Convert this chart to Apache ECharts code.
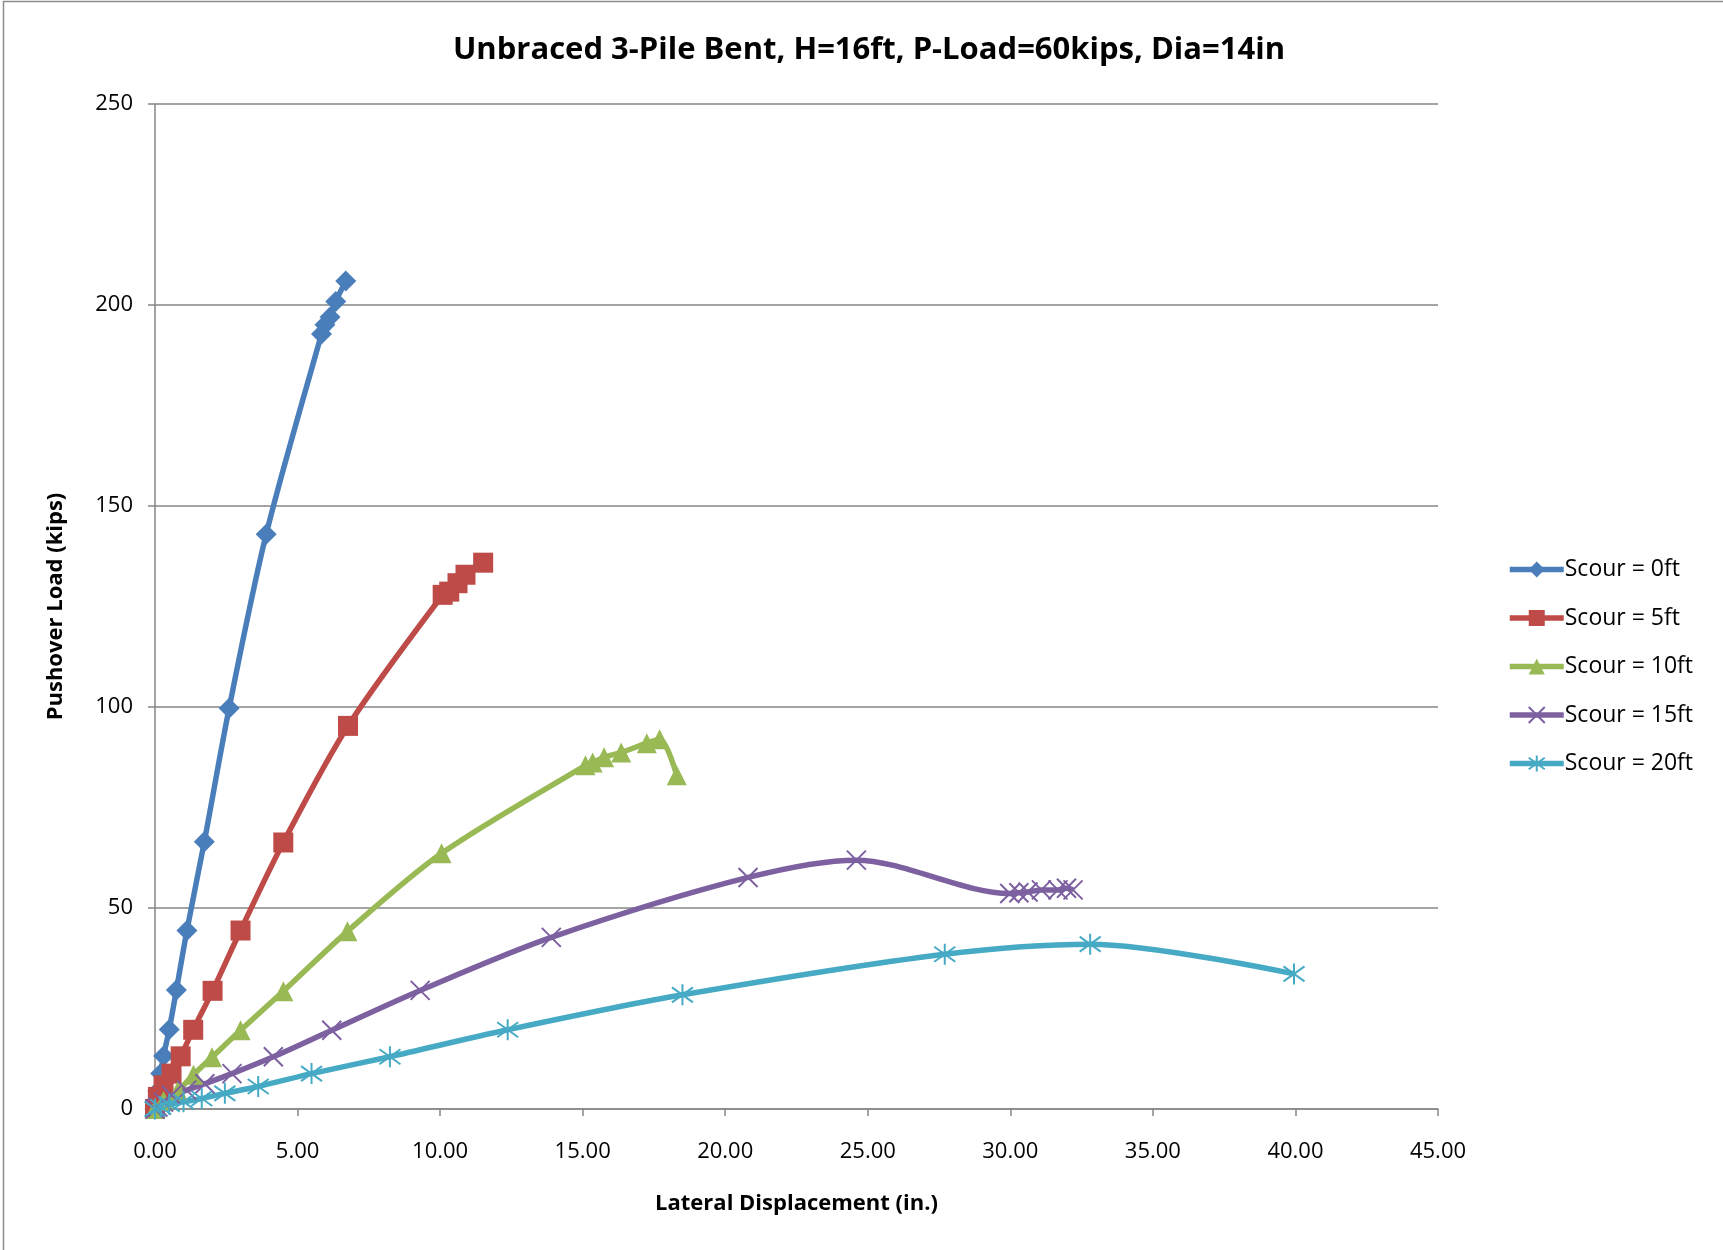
<!DOCTYPE html>
<html>
<head>
<meta charset="utf-8">
<script src="https://cdn.jsdelivr.net/npm/echarts@6/dist/echarts.min.js"></script>
<style>
  html, body { margin: 0; padding: 0; background: #fff; }
  #chart { width: 1723px; height: 1250px; }
</style>
</head>
<body>
<div id="chart"></div>
<script>
// values
const scour0X = [0, 0.1, 0.2, 0.3, 0.5, 0.75, 1.12, 1.73, 2.6, 3.9, 5.84, 5.96, 6.14, 6.34, 6.69];
const scour0Y = [0, 4.5, 8.8, 13.2, 19.8, 29.6, 44.4, 66.5, 99.7, 143.0, 192.8, 195.1, 197.0, 200.9, 206.0];

const scour5X = [0, 0.1, 0.3, 0.58, 0.9, 1.34, 2.02, 3.0, 4.5, 6.77, 10.09, 10.32, 10.61, 10.89, 11.51];
const scour5Y = [0, 3, 5.9, 8.8, 13.1, 19.7, 29.4, 44.4, 66.3, 95.3, 127.9, 128.7, 130.8, 132.9, 135.9];

const scour10X = [0, 0.3, 0.8, 1.35, 2.0, 3.0, 4.5, 6.75, 10.05, 15.1, 15.35, 15.75, 16.35, 17.25, 17.7, 18.3];
const scour10Y = [0, 2, 4.5, 8.5, 12.9, 19.6, 29.3, 44.2, 63.6, 85.5, 86.2, 87.5, 88.7, 91.0, 92.0, 83.0];

const scour15X = [0, 0.1, 0.3, 0.58, 1.11, 1.75, 2.7, 4.15, 6.2, 9.3, 13.9, 20.8, 24.6, 29.98, 30.3, 30.62, 31.09, 31.67, 31.97, 32.2];
const scour15Y = [0, 0.5, 1.7, 3.4, 4.7, 6.3, 8.8, 13.0, 19.6, 29.5, 42.7, 57.6, 61.9, 53.6, 53.8, 54.0, 54.5, 54.5, 54.9, 54.5];

const scour20X = [0, 0.2, 0.5, 1.0, 1.64, 2.45, 3.62, 5.49, 8.24, 12.37, 18.5, 27.7, 32.8, 39.95];
const scour20Y = [0, 0.5, 1.2, 1.8, 2.6, 3.9, 5.6, 8.8, 13.0, 19.7, 28.4, 38.5, 41.0, 33.6];

const seriesNames = ['Scour = 0ft', 'Scour = 5ft', 'Scour = 10ft', 'Scour = 15ft', 'Scour = 20ft'];

const chart = echarts.init(document.getElementById('chart'));

const pairs = (xs, ys) => xs.map((x, i) => [x, ys[i]]);

const makeSeries = (name, data, color, symbol, size, hollow) => ({
  name: name,
  type: 'line',
  data: data,
  smooth: 0.3,
  symbol: symbol,
  symbolSize: size,
  showAllSymbol: true,
  lineStyle: { color: color, width: 5.5 },
  itemStyle: hollow
    ? { color: 'rgba(0,0,0,0)', borderColor: color, borderWidth: 2 }
    : { color: color, borderColor: color, borderWidth: 0 },
  emphasis: { disabled: true }
});

const option = {
  backgroundColor: '#fff',
  animation: false,
  title: {
    text: 'Unbraced 3-Pile Bent, H=16ft, P-Load=60kips, Dia=14in',
    left: 864,
    textAlign: 'center',
    top: 30,
    textStyle: { fontFamily: 'Open Sans', fontWeight: 'bold', fontSize: 31, color: '#000' }
  },
  grid: { left: 155, right: 285, top: 104, bottom: 141 },
  legend: {
    orient: 'vertical',
    left: 1502,
    top: 553,
    itemWidth: 54,
    itemHeight: 20,
    itemGap: 25.5,
    lineStyle: { width: 5.5 },
    textStyle: { fontFamily: 'Open Sans', fontSize: 23, lineHeight: 20, color: '#000', padding: [0, 0, 0, -4] },
    data: seriesNames
  },
  xAxis: {
    type: 'value',
    min: 0,
    max: 45,
    interval: 5,
    name: 'Lateral Displacement (in.)',
    nameLocation: 'middle',
    nameGap: 84,
    nameTextStyle: { fontFamily: 'Open Sans', fontWeight: 'bold', fontSize: 22, color: '#000' },
    axisLine: { lineStyle: { color: '#868686', width: 1.5 } },
    axisTick: { show: true, inside: false, length: 7, lineStyle: { color: '#868686', width: 1.5 } },
    axisLabel: { formatter: v => v.toFixed(2), fontFamily: 'Open Sans', fontSize: 22, color: '#000', margin: 32 },
    splitLine: { show: false }
  },
  yAxis: {
    type: 'value',
    min: 0,
    max: 250,
    interval: 50,
    name: 'Pushover Load (kips)',
    nameLocation: 'middle',
    nameGap: 88,
    nameTextStyle: { fontFamily: 'Open Sans', fontWeight: 'bold', fontSize: 22, color: '#000' },
    axisLine: { show: true, lineStyle: { color: '#868686', width: 1.5 } },
    axisTick: { show: true, inside: false, length: 7, lineStyle: { color: '#868686', width: 1.5 } },
    axisLabel: { fontFamily: 'Open Sans', fontSize: 22, color: '#000', margin: 22 },
    splitLine: { show: true, lineStyle: { color: '#868686', width: 1.5 } }
  },
  graphic: [{
    type: 'rect',
    shape: { x: 3.5, y: 1.5, width: 1760, height: 1300 },
    style: { fill: 'none', stroke: '#8c8c8c', lineWidth: 1.5 },
    silent: true
  }],
  series: [
    makeSeries(seriesNames[0], pairs(scour0X, scour0Y), '#4a7ebb', 'diamond', 21, false),
    makeSeries(seriesNames[1], pairs(scour5X, scour5Y), '#be4b48', 'rect', 20, false),
    makeSeries(seriesNames[2], pairs(scour10X, scour10Y), '#98b954', 'triangle', 20, false),
    makeSeries(seriesNames[3], pairs(scour15X, scour15Y), '#7d60a0', 'path://M0 0L10 10M10 0L0 10', 19, true),
    makeSeries(seriesNames[4], pairs(scour20X, scour20Y), '#46aac5', 'path://M0 0L10 10M10 0L0 10M5 -2L5 12', 21, true)
  ]
};

chart.setOption(option);
</script>
</body>
</html>
